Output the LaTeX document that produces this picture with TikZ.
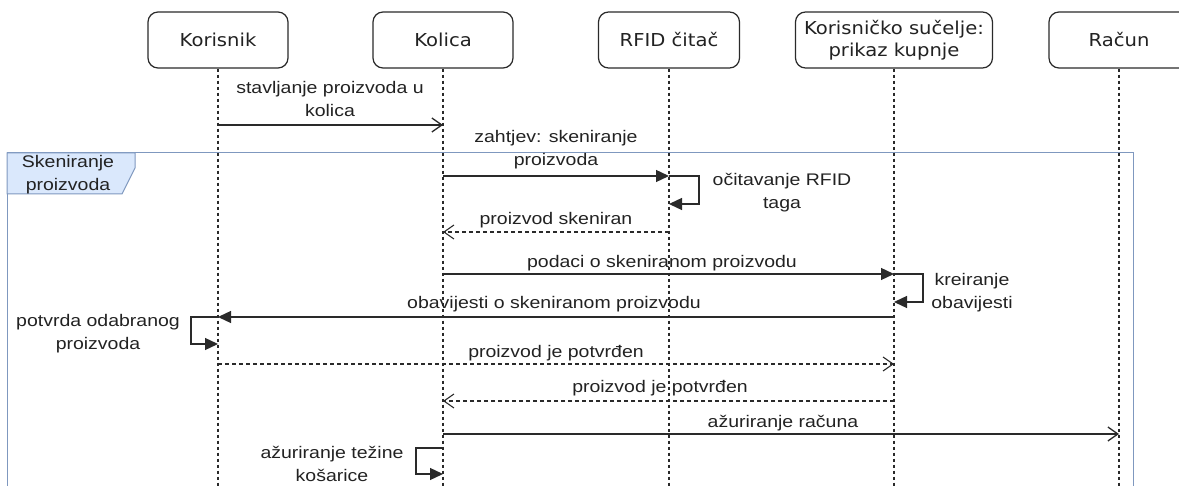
\documentclass[tikz,border=0pt]{standalone}
\usepackage{fontspec}
\usetikzlibrary{arrows.meta}
\newfontfamily\msgfont[FakeStretch=1.16]{Liberation Sans}
\newfontfamily\headfont[FakeStretch=1.1]{DejaVu Sans}
\definecolor{ink}{HTML}{2A2A2A}
\definecolor{textc}{HTML}{222222}
\definecolor{framec}{HTML}{7F98BF}
\definecolor{framefill}{HTML}{DAE8FC}

\begin{document}
\begin{tikzpicture}[x=1pt,y=-1pt,
  head/.style={draw=ink, line width=1.2pt, rounded corners=10pt, fill=white,
    minimum width=140pt, minimum height=56pt, align=center, inner sep=0pt,
    font=\headfont\fontsize{17.8}{22}\selectfont, text=textc},
  lifeline/.style={draw=ink, line width=1.1pt, dash pattern=on 3pt off 3pt},
  call/.style={draw=ink, line width=1.3pt, -{Triangle[length=13pt,width=12pt]}},
  async/.style={draw=ink, line width=1.3pt, -{Straight Barb[length=10pt,width=14pt]}},
  reply/.style={draw=ink, line width=1.1pt, dash pattern=on 4pt off 3pt,
    -{Straight Barb[length=10pt,width=14pt]}},
  lbl/.style={font=\msgfont\fontsize{16.8}{23}\selectfont, text=textc,
    align=center, inner sep=0pt},
  fragment/.style={draw=framec, line width=1pt}
]
\useasboundingbox (0,0) rectangle (1179,486);

% combined fragment "Skeniranje proizvoda"
\draw[fragment] (7,495) -- (7,153) -- (1133,153) -- (1133,495);
\filldraw[fragment, fill=framefill] (7,153) -- (135,153) -- (135,168) -- (122,194) -- (7,194) -- cycle;
\node[lbl] (fragname) at (68,175) {Skeniranje\\proizvoda};

% participants
\node[head] (korisnik) at (218,40) {Korisnik};
\node[head] (kolica) at (443,40) {Kolica};
\node[head, minimum width=141pt] (rfid) at (669,40) {RFID čitač};
\node[head, minimum width=197pt] (ui) at (894,40) {Korisničko sučelje:\\prikaz kupnje};
\node[head] (racun) at (1119,40) {Račun};

% lifeline ends
\coordinate (bottom) at (0,492);
\foreach \p in {korisnik,kolica,rfid,ui,racun}
  \draw[lifeline] (\p.south) -- (\p.south |- bottom);

% message rows
\coordinate (r1) at (0,125);
\coordinate (r2) at (0,176);
\coordinate (r3) at (0,204);
\coordinate (r4) at (0,232);
\coordinate (r5) at (0,274);
\coordinate (r6) at (0,302);
\coordinate (r7) at (0,317);
\coordinate (r8) at (0,344);
\coordinate (r9) at (0,364);
\coordinate (r10) at (0,401);
\coordinate (r11) at (0,434);
\coordinate (r12) at (0,448);
\coordinate (r13) at (0,474);

% messages
\draw[async] (korisnik |- r1) -- (kolica |- r1);
\node[lbl] (t1) at (330,98.5) {stavljanje proizvoda u\\kolica};

\draw[call] (kolica |- r2) -- (rfid |- r2);
\node[lbl] (t2) at (556,149.5) {zahtjev: skeniranje\\proizvoda};

\draw[call] (rfid |- r2) -- ++(30,0) |- (rfid |- r3);
\node[lbl] (t3) at (782,192.5) {očitavanje RFID\\taga};

\draw[reply] (rfid |- r4) -- (kolica |- r4);
\node[lbl] (t4) at (556,220) {proizvod skeniran};

\draw[call] (kolica |- r5) -- (ui |- r5);
\node[lbl] (t5) at (662,263) {podaci o skeniranom proizvodu};

\draw[call] (ui |- r5) -- ++(29,0) |- (ui |- r6);
\node[lbl] (t6) at (972,292.5) {kreiranje\\obavijesti};

\draw[call] (ui |- r7) -- (korisnik |- r7);
\node[lbl] (t7) at (554,304) {obavijesti o skeniranom proizvodu};

\draw[call] (korisnik |- r7) -- ++(-27,0) |- (korisnik |- r8);
\node[lbl] (t8) at (98,334) {potvrda odabranog\\proizvoda};

\draw[reply] (korisnik |- r9) -- (ui |- r9);
\node[lbl] (t9) at (556,353) {proizvod je potvrđen};

\draw[reply] (ui |- r10) -- (kolica |- r10);
\node[lbl] (t10) at (660,388) {proizvod je potvrđen};

\draw[async] (kolica |- r11) -- (racun |- r11);
\node[lbl] (t11) at (783,423) {ažuriranje računa};

\draw[call] (kolica |- r12) -- ++(-27,0) |- (kolica |- r13);
\node[lbl] (t12) at (332,464) {ažuriranje težine\\košarice};
\end{tikzpicture}
\end{document}
